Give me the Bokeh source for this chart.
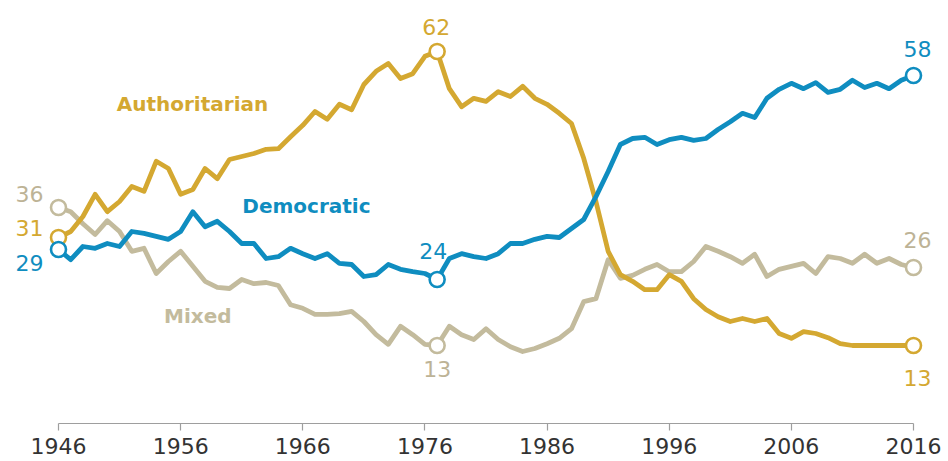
from bokeh.plotting import figure
from bokeh.models import ColumnDataSource, FixedTicker, Range1d
from bokeh.core.properties import value
from bokeh.embed import file_html
from bokeh.resources import INLINE

# ---------------- data ----------------
years = list(range(1946, 2017))

authoritarian = [31, 32, 34.5, 38.2, 35.3, 37, 39.5, 38.7, 43.7, 42.5,
                 38.2, 39, 42.5, 40.8, 44, 44.5, 45, 45.7, 45.8, 47.8,
                 49.7, 52, 50.7, 53.2, 52.3, 56.5, 58.7, 60, 57.5, 58.3,
                 61.2, 62, 55.8, 52.8, 54.2, 53.7, 55.3, 54.5, 56.2, 54.2,
                 53.2, 51.7, 50, 44.2, 37, 28.7, 24.8, 23.7, 22.3, 22.3,
                 24.8, 23.7, 20.8, 19, 17.8, 17, 17.5, 17, 17.5, 15,
                 14.2, 15.3, 15, 14.3, 13.3, 13, 13, 13, 13, 13, 13]

democratic = [29, 27.3, 29.5, 29.2, 30, 29.5, 32, 31.7, 31.2, 30.7,
              32, 35.3, 32.8, 33.7, 32, 30, 30, 27.5, 27.8, 29.2,
              28.3, 27.5, 28.3, 26.7, 26.5, 24.5, 24.8, 26.5, 25.7, 25.3,
              25, 24, 27.5, 28.3, 27.8, 27.5, 28.3, 30, 30, 30.7,
              31.2, 31, 32.5, 34, 37.8, 42, 46.5, 47.5, 47.7, 46.5,
              47.3, 47.7, 47.2, 47.5, 49, 50.3, 51.7, 51, 54.2, 55.7,
              56.7, 55.8, 56.8, 55.2, 55.7, 57.2, 56, 56.7, 55.8, 57.2, 58]

mixed = [36, 35.3, 33.3, 31.5, 33.8, 32, 28.7, 29.2, 25, 27,
         28.7, 26.2, 23.7, 22.7, 22.5, 24, 23.3, 23.5, 23, 19.8,
         19.2, 18.2, 18.2, 18.3, 18.7, 17, 14.8, 13.2, 16.2, 14.8,
         13.2, 13, 16.2, 14.8, 14, 15.8, 14, 12.8, 12, 12.5,
         13.3, 14.2, 15.8, 20.3, 20.8, 27.3, 24.2, 24.7, 25.7, 26.5,
         25.3, 25.3, 27, 29.5, 28.7, 27.8, 26.7, 28.2, 24.5, 25.7,
         26.2, 26.7, 25, 27.8, 27.5, 26.7, 28.2, 26.7, 27.5, 26.5, 26]

series_names = ["Authoritarian", "Democratic", "Mixed"]
tick_years = [1946, 1956, 1966, 1976, 1986, 1996, 2006, 2016]
highlight_years = [1946, 1977, 2016]

# ---------------- styling ----------------
C_AUTH = "#D4A831"
C_DEM = "#0F8DC0"
C_MIX = "#C3BB9D"
C_MIX_TXT = "#BDB396"

W, H = 948, 461
LEFT_PX, RIGHT_PX = 58, 913          # pixel positions of first / last year
px_per_year = (RIGHT_PX - LEFT_PX) / (years[-1] - years[0])
x0 = years[0] - LEFT_PX / px_per_year
x1 = years[-1] + (W - RIGHT_PX) / px_per_year

p = figure(width=W, height=H, output_backend="svg", toolbar_location=None,
           x_range=Range1d(x0, x1), y_range=Range1d(0, 70.5),
           min_border_left=0, min_border_right=0, min_border_top=0,
           min_border_bottom=38, y_axis_location=None)
p.outline_line_color = None
p.xgrid.visible = False
p.ygrid.visible = False
p.background_fill_color = "white"
p.border_fill_color = "white"

ax = p.xaxis[0]
ax.ticker = FixedTicker(ticks=tick_years)
ax.bounds = (tick_years[0], tick_years[-1])
ax.axis_line_color = "#9E9E9E"
ax.axis_line_width = 1.2
ax.major_tick_line_color = "#9E9E9E"
ax.major_tick_line_width = 1.2
ax.major_tick_in = 0
ax.major_tick_out = 7
ax.minor_tick_in = 0
ax.minor_tick_out = 0
ax.major_label_standoff = 7
ax.major_label_text_font = "DejaVu Sans"
ax.major_label_text_font_size = "22px"
ax.major_label_text_color = "#333333"

series = [
    ("Mixed", mixed, C_MIX, C_MIX_TXT),
    ("Authoritarian", authoritarian, C_AUTH, C_AUTH),
    ("Democratic", democratic, C_DEM, C_DEM),
]

# label pixel offsets (x, y) for the start / 1977 / end value labels
offsets = {
    "Authoritarian": [(-29, -10), (-1, -25), (4, 32)],
    "Democratic": [(-29, 13), (-4, -29), (4, -27)],
    "Mixed": [(-29, -14), (0, 23), (4, -28)],
}

for name, vals, col, tcol in series:
    p.line(years, vals, line_color=col, line_width=4.8,
           line_join="round", line_cap="round")

for name, vals, col, tcol in series:
    idx = [years.index(y) for y in highlight_years]
    src = ColumnDataSource(dict(
        x=[years[i] for i in idx],
        y=[vals[i] for i in idx],
        t=["%d" % round(vals[i]) for i in idx],
        dx=[o[0] for o in offsets[name]],
        dy=[o[1] for o in offsets[name]],
    ))
    p.scatter("x", "y", source=src, size=15, marker="circle",
              fill_color="white", line_color=col, line_width=2.6)
    p.text("x", "y", text="t", source=src, x_offset="dx", y_offset="dy",
           text_color=tcol, text_font=value("DejaVu Sans"),
           text_font_size="22px", text_align="center",
           text_baseline="middle")

# series name labels (placed in data units)
name_src = ColumnDataSource(dict(x=[1956.97, 1966.3, 1957.4],
                                 y=[53.2, 36.2, 18.0],
                                 t=series_names,
                                 c=[C_AUTH, C_DEM, C_MIX]))
p.text("x", "y", text="t", source=name_src, text_color="c",
       text_font=value("DejaVu Sans"), text_font_style="bold",
       text_font_size="20px", text_align="center", text_baseline="middle")

open("out.html", "w").write(file_html(p, INLINE))
